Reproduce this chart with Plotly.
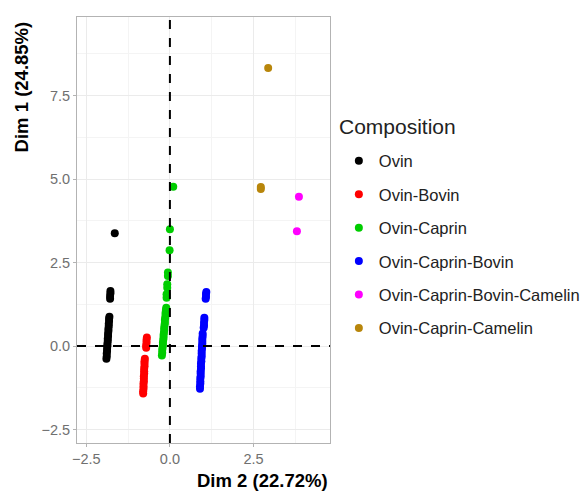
import plotly.graph_objects as go

# ---- data ----
groups = ["Ovin", "Ovin-Bovin", "Ovin-Caprin", "Ovin-Caprin-Bovin",
          "Ovin-Caprin-Bovin-Camelin", "Ovin-Caprin-Camelin"]
colors = ["#000000", "#FF0000", "#00CD00", "#0000FF", "#FF00FF", "#B8860B"]

ovin_x = [-1.90, -1.89, -1.89, -1.88, -1.88, -1.87, -1.87, -1.86, -1.86, -1.85, -1.85, -1.84,
          -1.84, -1.83, -1.83, -1.82, -1.82, -1.81, -1.79, -1.79, -1.78, -1.78, -1.65]
ovin_y = [-0.38, -0.30, -0.22, -0.15, -0.08, 0.00, 0.07, 0.15, 0.22, 0.30, 0.37, 0.45,
          0.52, 0.60, 0.67, 0.75, 0.82, 0.88, 1.42, 1.50, 1.58, 1.65, 3.38]

bovin_x = [-0.80, -0.80, -0.79, -0.79, -0.79, -0.78, -0.78, -0.78, -0.77, -0.77, -0.77, -0.76,
           -0.76, -0.76, -0.75, -0.71, -0.71, -0.70, -0.70, -0.69]
bovin_y = [-1.42, -1.35, -1.28, -1.20, -1.12, -1.05, -0.97, -0.90, -0.82, -0.75, -0.68, -0.60,
           -0.52, -0.45, -0.38, -0.05, 0.02, 0.10, 0.18, 0.26]

caprin_x = [-0.24, -0.23, -0.23, -0.22, -0.21, -0.21, -0.20, -0.19, -0.19, -0.18, -0.17, -0.17,
            -0.16, -0.15, -0.15, -0.14, -0.13, -0.13, -0.12, -0.11, -0.10, -0.10, -0.08, -0.08,
            -0.06, -0.06, -0.01, 0.00, 0.10]
caprin_y = [-0.28, -0.20, -0.12, -0.05, 0.03, 0.10, 0.18, 0.25, 0.33, 0.40, 0.48, 0.55,
            0.63, 0.70, 0.78, 0.85, 0.93, 1.00, 1.08, 1.15, 1.45, 1.55, 1.75, 1.85,
            2.10, 2.20, 2.87, 3.50, 4.77]

ocb_x = [0.90, 0.90, 0.91, 0.91, 0.91, 0.92, 0.92, 0.92, 0.93, 0.93, 0.93, 0.94, 0.94, 0.95,
         0.95, 0.95, 0.96, 0.96, 0.97, 0.97, 0.97, 0.98, 0.98, 1.01, 1.02, 1.02, 1.03, 1.03,
         1.07, 1.08, 1.08, 1.09]
ocb_y = [-1.28, -1.20, -1.12, -1.05, -0.97, -0.90, -0.82, -0.75, -0.67, -0.60, -0.52, -0.45,
         -0.37, -0.30, -0.22, -0.15, -0.07, 0.00, 0.08, 0.15, 0.23, 0.30, 0.38, 0.55, 0.62,
         0.70, 0.78, 0.85, 1.42, 1.48, 1.56, 1.62]

ocbc_x = [3.86, 3.80]
ocbc_y = [4.47, 3.44]

occ_x = [2.94, 2.72, 2.72]
occ_y = [8.32, 4.70, 4.76]

xs = [ovin_x, bovin_x, caprin_x, ocb_x, ocbc_x, occ_x]
ys = [ovin_y, bovin_y, caprin_y, ocb_y, ocbc_y, occ_y]

x_ticks = [-2.5, 0.0, 2.5]
y_ticks = [-2.5, 0.0, 2.5, 5.0, 7.5]
x_minor = [-1.25, 1.25, 3.75]
y_minor = [-1.25, 1.25, 3.75, 6.25, 8.75]

FONT = "Liberation Sans, Arial, sans-serif"

fig = go.Figure()
for name, col, x, y in zip(groups, colors, xs, ys):
    fig.add_trace(go.Scatter(x=x, y=y, mode="markers", name=name, legendgroup=name,
                             marker=dict(color=col, size=8, line=dict(width=0))))

fig.add_shape(type="line", xref="paper", yref="y", x0=0, x1=1, y0=0, y1=0,
              line=dict(color="black", width=2, dash="dash"), layer="above")
fig.add_shape(type="line", xref="x", yref="paper", x0=0, x1=0, y0=0, y1=1,
              line=dict(color="black", width=2, dash="dash"), layer="above")

axis_common = dict(
    showgrid=True, gridcolor="#EBEBEB", gridwidth=1,
    zeroline=False, showline=True, linecolor="#B3B3B3", linewidth=1, mirror=True,
    ticks="outside", ticklen=3, tickcolor="#B3B3B3",
    tickfont=dict(family=FONT, size=14.5, color="#707070"),
    tickformat=".1f", automargin=False,
)
fig.update_xaxes(range=[-2.78, 4.79], tickmode="array", tickvals=x_ticks, **axis_common)
fig.update_yaxes(range=[-2.9, 9.85], tickmode="array", tickvals=y_ticks, **axis_common)
fig.update_xaxes(minor=dict(tickmode="array", tickvals=x_minor, showgrid=True,
                            gridcolor="#F4F4F4", ticks=""))
fig.update_yaxes(minor=dict(tickmode="array", tickvals=y_minor, showgrid=True,
                            gridcolor="#F4F4F4", ticks=""))

fig.add_annotation(text="<b>Dim 1 (24.85%)</b>", xref="paper", yref="paper",
                   x=-0.221, y=0.835, xanchor="center", yanchor="middle", textangle=-90,
                   showarrow=False, font=dict(family=FONT, size=18.5, color="black"))
fig.add_annotation(text="<b>Dim 2 (22.72%)</b>", xref="paper", yref="paper",
                   x=1.0, y=-0.089, xanchor="right", yanchor="middle",
                   showarrow=False, font=dict(family=FONT, size=18.5, color="black"))
fig.add_annotation(text="Composition", xref="paper", yref="paper",
                   x=1.028, y=0.742, xanchor="left", yanchor="middle",
                   showarrow=False, font=dict(family=FONT, size=21, color="#222222"))

# body has an 8px default margin in the page, so the figure is drawn 8px smaller
fig.update_layout(
    width=580, height=483,
    margin=dict(l=69, r=258, t=9, b=48, autoexpand=False),
    plot_bgcolor="white", paper_bgcolor="white",
    font=dict(family=FONT, size=16.5, color="#222222"),
    legend=dict(
        x=1.035, y=0.703, xanchor="left", yanchor="top",
        font=dict(family=FONT, size=16.5, color="#222222"),
        tracegroupgap=9, itemsizing="trace",
        bgcolor="rgba(0,0,0,0)",
    ),
)

fig.write_html("out.html")
